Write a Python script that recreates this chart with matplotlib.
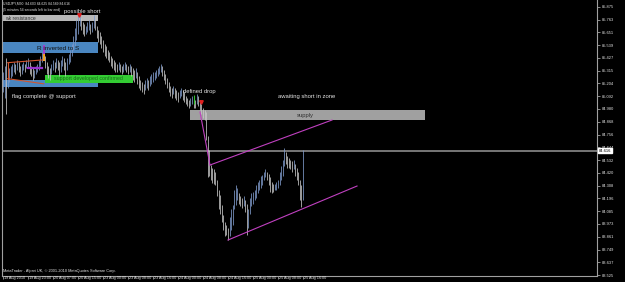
import matplotlib
matplotlib.use("Agg")
import matplotlib.pyplot as plt
import numpy as np
from matplotlib.patches import Rectangle
from matplotlib.transforms import blended_transform_factory

# ---------------- data (USDJPY M30) ----------------
highs = [85.30, 85.36, 85.43, 85.37, 85.34, 85.36, 85.37, 85.39, 85.37, 85.41,
         85.39, 85.36, 85.37, 85.39, 85.37, 85.41, 85.43, 85.39, 85.36, 85.34,
         85.32, 85.36, 85.37, 85.41, 85.44, 85.48, 85.53, 85.44, 85.39, 85.36,
         85.34, 85.37, 85.41, 85.39, 85.43, 85.41, 85.39, 85.41, 85.44, 85.43,
         85.39, 85.43, 85.46, 85.50, 85.55, 85.62, 85.69, 85.76, 85.79, 85.81,
         85.78, 85.74, 85.72, 85.71, 85.74, 85.76, 85.72, 85.74, 85.80, 85.76,
         85.71, 85.67, 85.65, 85.62, 85.58, 85.55, 85.53, 85.50, 85.48, 85.44,
         85.43, 85.41, 85.39, 85.37, 85.39, 85.37, 85.36, 85.37, 85.39, 85.37,
         85.36, 85.37, 85.36, 85.34, 85.32, 85.34, 85.30, 85.27, 85.23, 85.22,
         85.20, 85.23, 85.25, 85.23, 85.27, 85.29, 85.30, 85.30, 85.32, 85.34,
         85.36, 85.37, 85.36, 85.32, 85.29, 85.25, 85.22, 85.18, 85.16, 85.18,
         85.16, 85.15, 85.13, 85.15, 85.16, 85.15, 85.13, 85.09, 85.08, 85.06,
         85.08, 85.09, 85.08, 85.06, 85.11, 85.09, 85.06, 85.02, 84.99, 84.97,
         84.95, 84.74, 84.62, 84.49, 84.46, 84.45, 84.43, 84.36, 84.27, 84.23,
         84.14, 84.05, 83.99, 83.96, 83.94, 84.03, 84.10, 84.14, 84.27, 84.31,
         84.29, 84.24, 84.22, 84.20, 84.22, 84.18, 84.15, 84.10, 84.20, 84.24,
         84.25, 84.27, 84.31, 84.34, 84.36, 84.39, 84.40, 84.43, 84.45, 84.43,
         84.41, 84.38, 84.34, 84.32, 84.32, 84.34, 84.36, 84.43, 84.48, 84.53,
         84.64, 84.60, 84.57, 84.55, 84.53, 84.52, 84.53, 84.50, 84.46, 84.43,
         84.36, 84.31, 84.62]
lows = [85.13, 85.08, 84.94, 85.16, 85.22, 85.25, 85.27, 85.30, 85.29, 85.32,
        85.30, 85.27, 85.29, 85.32, 85.30, 85.34, 85.34, 85.29, 85.27, 85.23,
        85.25, 85.29, 85.30, 85.32, 85.36, 85.39, 85.43, 85.34, 85.29, 85.25,
        85.23, 85.29, 85.32, 85.30, 85.34, 85.32, 85.27, 85.30, 85.36, 85.32,
        85.27, 85.32, 85.37, 85.39, 85.44, 85.50, 85.53, 85.58, 85.64, 85.71,
        85.67, 85.64, 85.62, 85.64, 85.65, 85.67, 85.64, 85.65, 85.69, 85.67,
        85.60, 85.57, 85.55, 85.51, 85.48, 85.44, 85.43, 85.41, 85.39, 85.36,
        85.34, 85.32, 85.30, 85.30, 85.32, 85.30, 85.29, 85.30, 85.32, 85.30,
        85.29, 85.30, 85.27, 85.23, 85.22, 85.25, 85.20, 85.16, 85.15, 85.13,
        85.11, 85.15, 85.16, 85.15, 85.18, 85.20, 85.22, 85.23, 85.25, 85.27,
        85.29, 85.30, 85.27, 85.23, 85.20, 85.16, 85.13, 85.09, 85.08, 85.11,
        85.08, 85.06, 85.04, 85.08, 85.09, 85.06, 85.04, 85.02, 85.01, 84.99,
        85.01, 85.02, 84.99, 84.99, 85.02, 85.01, 84.97, 84.94, 84.90, 84.88,
        84.71, 84.38, 84.39, 84.36, 84.33, 84.32, 84.31, 84.22, 84.10, 84.06,
        83.99, 83.92, 83.87, 83.88, 83.83, 83.87, 83.92, 83.96, 84.10, 84.14,
        84.18, 84.15, 84.13, 84.11, 84.13, 84.08, 83.88, 83.94, 84.06, 84.13,
        84.15, 84.18, 84.20, 84.24, 84.27, 84.29, 84.31, 84.36, 84.38, 84.36,
        84.31, 84.25, 84.24, 84.25, 84.27, 84.27, 84.29, 84.31, 84.36, 84.39,
        84.48, 84.50, 84.46, 84.46, 84.45, 84.43, 84.45, 84.39, 84.36, 84.31,
        84.18, 84.12, 84.18]

time_labels = ["19 Aug 2010", "19 Aug 23:00", "20 Aug 07:00", "20 Aug 15:00",
               "23 Aug 00:00", "23 Aug 08:00", "23 Aug 16:00", "24 Aug 00:00",
               "24 Aug 08:00", "24 Aug 16:00", "25 Aug 00:00", "25 Aug 08:00",
               "25 Aug 16:00"]
bars_per_label = 16
price_ticks = [83.525, 83.637, 83.749, 83.861, 83.973, 84.085, 84.196, 84.308,
               84.420, 84.532, 84.644, 84.756, 84.868, 84.980, 85.092, 85.204,
               85.315, 85.427, 85.539, 85.651, 85.763, 85.875]
current_price = 84.616

# zones (bar index start/end, price low/high)
wk_res_zone = (-1, 61, 85.75, 85.80)
r_to_s_zone = (-1, 61, 85.47, 85.57)
lower_blue_zone = (-1, 61, 85.17, 85.23)
support_zone = (27, 83, 85.21, 85.28)
supply_zone = (120, 270, 84.88, 84.97)
drop_line = ([126.1, 132.5], [84.953, 84.489])
upper_channel = ([132.5, 210.6], [84.489, 84.883])
lower_channel = ([144.0, 226.6], [83.832, 84.305])

# ---------------- figure ----------------
W, H = 625, 282
plt.rcParams["font.family"] = "Liberation Sans"
fig = plt.figure(figsize=(W / 100, H / 100), dpi=100, facecolor="black")
ax = fig.add_axes([2 / W, 6 / H, 595 / W, 276 / H], facecolor="black")

n = len(highs)
xs = np.arange(n)
ax.set_xlim(-0.64, 380.2)
ax.set_ylim(83.517, 85.934)

def zone(z, color):
    ax.add_patch(Rectangle((z[0], z[2]), z[1] - z[0], z[3] - z[2],
                           facecolor=color, edgecolor="none", zorder=1))

zone(wk_res_zone, "#b8b8b8")
zone(r_to_s_zone, "#4a86c0")
zone(lower_blue_zone, "#4a86c0")
zone(support_zone, "#33cc33")
zone(supply_zone, "#a0a0a0")

# current price line
ax.axhline(current_price, color="#808080", lw=1.3, zorder=1.5)

# bars
mids = (np.array(highs) + np.array(lows)) / 2
up = np.r_[True, mids[1:] >= mids[:-1]]
cols = np.where(up, "#7f9acb", "#c8c8c8")
ax.vlines(xs, lows, highs, colors=cols, lw=0.55, zorder=3)

# channel lines
for ln in (drop_line, upper_channel, lower_channel):
    ax.plot(ln[0], ln[1], color="#c040c0", lw=0.8, zorder=4)

# flag and small marks
ax.plot([3, 26], [85.385, 85.41], color="#d2552d", lw=0.8, zorder=4)
ax.plot([3, 26], [85.245, 85.20], color="#d2552d", lw=0.8, zorder=4)
ax.plot([3, 3], [85.245, 85.385], color="#d2552d", lw=0.8, zorder=4)
ax.plot([16, 25], [85.34, 85.34], color="#9933cc", lw=1.6, zorder=4)
ax.add_patch(Rectangle((25.5, 85.46), 1.2, 0.08, facecolor="#a040d0", zorder=4))
ax.add_patch(Rectangle((25.5, 85.40), 1.2, 0.06, facecolor="#f0a020", zorder=4))
ax.plot([48.5], [85.80], marker="v", ms=2.5, color="#e02020", zorder=5)
ax.plot([126.5], [85.04], marker="v", ms=2.5, color="#e02020", zorder=5)
ax.vlines([122], [85.02], [85.10], colors="#30c030", lw=0.8, zorder=5)

# text annotations
TC = "#e6e6e6"
fs = 4.2
ax.text(1, 85.772, "wk resistance", color="#303030", fontsize=3.6, va="center", zorder=6)
ax.text(50.5, 85.83, "possible short", color=TC, fontsize=fs, ha="center", va="center", zorder=6)
ax.text(35, 85.51, "R inverted to S", color="#101010", fontsize=4.6, ha="center", va="center", zorder=6)
ax.text(54.5, 85.243, "support developed confirmed", color="#1a6a1a", fontsize=3.8, ha="center", va="center", zorder=6)
ax.text(5.8, 85.085, "flag complete @ support", color=TC, fontsize=fs, va="center", zorder=6)
ax.text(115.2, 85.137, "defined drop", color=TC, fontsize=fs, va="center", zorder=6)
ax.text(176, 85.085, "awaiting short in zone", color=TC, fontsize=fs, va="center", zorder=6)
ax.text(193.3, 84.92, "supply", color="#303030", fontsize=fs, ha="center", va="center", zorder=6)

# header / footer
fig.text(3 / W, 1 - 4 / H, "USDJPY,M30  84.603 84.625 84.589 84.616", color=TC,
         fontsize=2.4, va="center", ha="left")
fig.text(3 / W, 1 - 9.5 / H, "(5 minutes 54 seconds left to bar end)", color=TC,
         fontsize=2.4, va="center", ha="left")
fig.text(3 / W, 1 - 271 / H, "MetaTrader - Alpari UK, \u00a9 2001-2010 MetaQuotes Software Corp.",
         color=TC, fontsize=2.8, va="center", ha="left")

for s in ("left", "right", "bottom"):
    ax.spines[s].set_color("#a0a0a0")
    ax.spines[s].set_linewidth(0.8)
ax.spines["top"].set_visible(False)

# x ticks
xt = [k * bars_per_label for k in range(len(time_labels))]
ax.set_xticks(xt)
ax.set_xticklabels([])
ax.tick_params(axis="x", direction="out", length=2.5, width=0.6, colors="#a0a0a0")
trans = blended_transform_factory(ax.transData, fig.transFigure)
for x, lab in zip(xt, time_labels):
    ax.text(x + 0.8, 1 - 278 / H, lab, transform=trans, color=TC, fontsize=2.7,
            ha="left", va="center", clip_on=False)

# y ticks on right
ax.yaxis.tick_right()
ax.set_yticks(price_ticks)
ax.set_yticklabels([f"{p:.3f}" for p in price_ticks])
ax.tick_params(axis="y", direction="out", length=2.5, width=0.6, colors="#a0a0a0",
               labelcolor=TC, labelsize=2.9, pad=1.2)

# current price box
ax.text(1.003, current_price, f"{current_price:.3f}",
        transform=blended_transform_factory(ax.transAxes, ax.transData),
        color="black", fontsize=2.9, ha="left", va="center", clip_on=False,
        bbox=dict(boxstyle="square,pad=0.15", facecolor="white", edgecolor="white"), zorder=10)

fig.savefig("out.png", dpi=100, facecolor="black")
